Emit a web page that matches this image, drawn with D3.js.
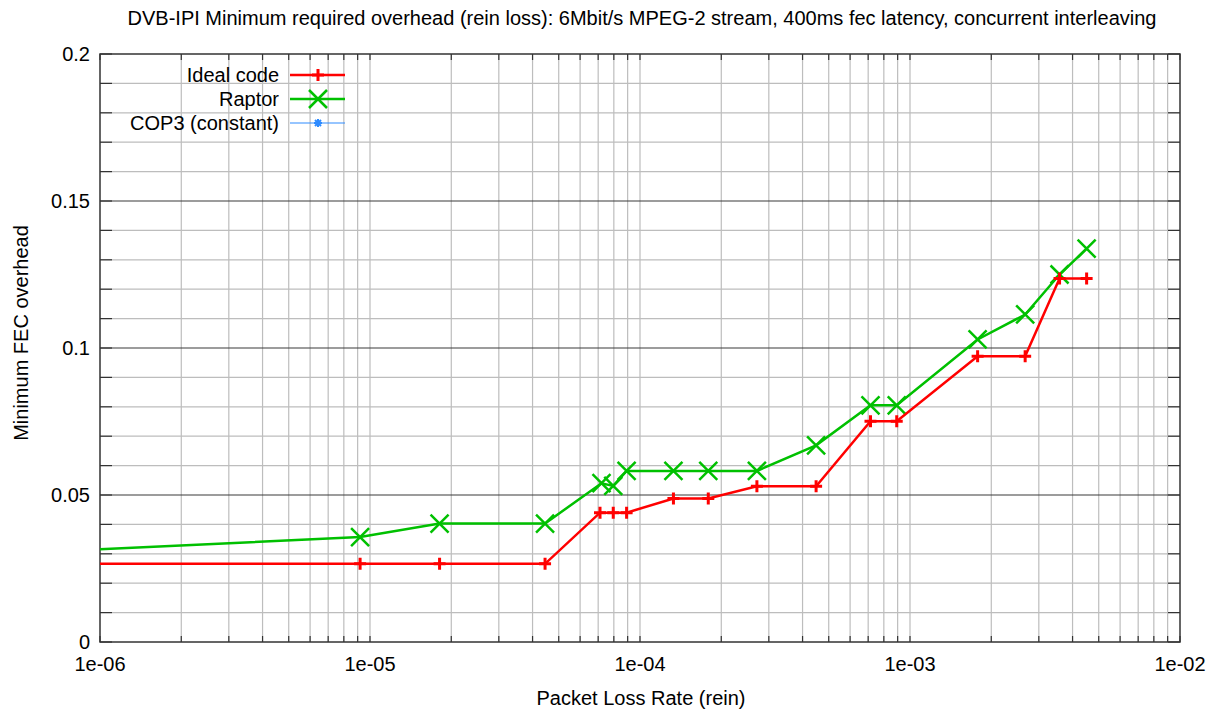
<!DOCTYPE html>
<html>
<head>
<meta charset="utf-8">
<script src="https://cdn.jsdelivr.net/npm/d3@7"></script>
<style>
  body { margin: 0; background: #fff; }
  text { font-family: "Liberation Sans", Arial, sans-serif; fill: #000; }
</style>
</head>
<body>
<svg id="chart" width="1218" height="714"></svg>
<script>
// packet loss rate (x) and minimum overhead (y)
const idealX = [5e-7, 9.19e-6, 1.81e-5, 4.45e-5, 7.11e-5, 7.96e-5, 8.92e-5, 1.33e-4, 1.79e-4, 2.71e-4, 4.49e-4, 7.14e-4, 8.93e-4, 1.78e-3, 2.67e-3, 3.58e-3, 4.51e-3];
const idealY = [0.0266, 0.0266, 0.0266, 0.0266, 0.0440, 0.0440, 0.0440, 0.0488, 0.0488, 0.0530, 0.0530, 0.0751, 0.0751, 0.0972, 0.0972, 0.1236, 0.1236];
const raptorX = [5e-7, 9.19e-6, 1.81e-5, 4.45e-5, 7.2e-5, 7.96e-5, 8.92e-5, 1.33e-4, 1.79e-4, 2.71e-4, 4.49e-4, 7.14e-4, 8.93e-4, 1.78e-3, 2.67e-3, 3.58e-3, 4.51e-3];
const raptorY = [0.0302, 0.0357, 0.0403, 0.0403, 0.0540, 0.0531, 0.0582, 0.0582, 0.0582, 0.0582, 0.0669, 0.0805, 0.0805, 0.1029, 0.1114, 0.1250, 0.1338];
const xTickLabels = ["1e-06", "1e-05", "1e-04", "1e-03", "1e-02"];
const yTickLabels = ["0", "0.05", "0.1", "0.15", "0.2"];
const legendNames = ["Ideal code", "Raptor", "COP3 (constant)"];

const svg = d3.select("#chart");
const margin = { left: 100, right: 38, top: 54, bottom: 72 };
const W = 1218, H = 714;
const FS = 20;
const x = d3.scaleLog().domain([1e-6, 1e-2]).range([margin.left, W - margin.right]);
const y = d3.scaleLinear().domain([0, 0.2]).range([H - margin.bottom, margin.top]);

svg.append("defs").append("clipPath").attr("id", "clip")
  .append("rect").attr("x", x.range()[0]).attr("y", y.range()[1])
  .attr("width", x.range()[1] - x.range()[0]).attr("height", y.range()[0] - y.range()[1]);

// grid
const xMinor = [];
for (let e = -6; e < -2; e++) for (let m = 1; m < 10; m++) xMinor.push(m * Math.pow(10, e));
xMinor.push(1e-2);
const yMinor = d3.range(0, 21).map(i => i / 100);

const grid = svg.append("g");
grid.selectAll(".vg").data(xMinor.slice(1, -1)).join("line")
  .attr("x1", d => x(d)).attr("x2", d => x(d))
  .attr("y1", y(0)).attr("y2", y(0.2))
  .attr("stroke", "#bdbdbd").attr("stroke-width", 1.2);
grid.selectAll(".hg").data(yMinor.slice(1, -1)).join("line")
  .attr("x1", x(1e-6)).attr("x2", x(1e-2))
  .attr("y1", d => y(d)).attr("y2", d => y(d))
  .attr("stroke", d => (Math.round(d * 100) % 5 === 0) ? "#3a3a3a" : "#bdbdbd")
  .attr("stroke-width", 1.2);

// ticks
const ticks = svg.append("g").attr("stroke", "#333").attr("stroke-width", 1.2);
xMinor.forEach(d => {
  ticks.append("line").attr("x1", x(d)).attr("x2", x(d)).attr("y1", y(0)).attr("y2", y(0) - 6);
  ticks.append("line").attr("x1", x(d)).attr("x2", x(d)).attr("y1", y(0.2)).attr("y2", y(0.2) + 6);
});
yMinor.forEach(d => {
  ticks.append("line").attr("x1", x(1e-6)).attr("x2", x(1e-6) + 12).attr("y1", y(d)).attr("y2", y(d));
  ticks.append("line").attr("x1", x(1e-2)).attr("x2", x(1e-2) - 12).attr("y1", y(d)).attr("y2", y(d));
});

// frame
svg.append("rect").attr("x", x(1e-6)).attr("y", y(0.2))
  .attr("width", x(1e-2) - x(1e-6)).attr("height", y(0) - y(0.2))
  .attr("fill", "none").attr("stroke", "#333").attr("stroke-width", 1.5);

// tick labels
xTickLabels.forEach(t => {
  svg.append("text").attr("x", x(+t)).attr("y", y(0) + 29)
    .attr("text-anchor", "middle").attr("font-size", FS).text(t);
});
yTickLabels.forEach(t => {
  svg.append("text").attr("x", x(1e-6) - 10).attr("y", y(+t) + 7)
    .attr("text-anchor", "end").attr("font-size", FS).text(t);
});

// titles
svg.append("text").attr("x", 642).attr("y", 25).attr("text-anchor", "middle")
  .attr("font-size", FS).text("DVB-IPI Minimum required overhead (rein loss): 6Mbit/s MPEG-2 stream, 400ms fec latency, concurrent interleaving");
svg.append("text").attr("x", 641).attr("y", 705).attr("text-anchor", "middle")
  .attr("font-size", FS).text("Packet Loss Rate (rein)");
svg.append("text").attr("transform", "translate(28," + 333 + ") rotate(-90)")
  .attr("text-anchor", "middle").attr("font-size", FS).text("Minimum FEC overhead");

// series
const ideal = idealX.map((d, i) => [d, idealY[i]]);
const raptor = raptorX.map((d, i) => [d, raptorY[i]]);
const line = d3.line().x(d => x(d[0])).y(d => y(d[1]));
const plot = svg.append("g").attr("clip-path", "url(#clip)");

function plusPath(cx, cy, s) { return `M${cx - s},${cy}H${cx + s}M${cx},${cy - s}V${cy + s}`; }
function crossPath(cx, cy, s) { return `M${cx - s},${cy - s}L${cx + s},${cy + s}M${cx - s},${cy + s}L${cx + s},${cy - s}`; }
function starPath(cx, cy, s) { return plusPath(cx, cy, s) + crossPath(cx, cy, s * 0.75); }

plot.append("path").datum(raptor).attr("d", line).attr("fill", "none")
  .attr("stroke", "#00c000").attr("stroke-width", 2.5);
plot.selectAll(".rm").data(raptor.filter(d => d[0] >= 1e-6)).join("path")
  .attr("d", d => crossPath(x(d[0]), y(d[1]), 9)).attr("stroke", "#00c000")
  .attr("stroke-width", 2.5).attr("fill", "none");

plot.append("path").datum(ideal).attr("d", line).attr("fill", "none")
  .attr("stroke", "#ff0000").attr("stroke-width", 2.5);
plot.selectAll(".im").data(ideal.filter(d => d[0] >= 1e-6)).join("path")
  .attr("d", d => plusPath(x(d[0]), y(d[1]), 6)).attr("stroke", "#ff0000")
  .attr("stroke-width", 3).attr("fill", "none");

// legend
const legColors = ["#ff0000", "#00c000", "#2e8bff"];
const legMark = [(cx, cy) => plusPath(cx, cy, 6), (cx, cy) => crossPath(cx, cy, 9), (cx, cy) => starPath(cx, cy, 4)];
const legWidths = [2.5, 2.5, 1.2];
legendNames.forEach((n, i) => {
  const ly = 75 + i * 24;
  svg.append("text").attr("x", 279).attr("y", ly + 7).attr("text-anchor", "end")
    .attr("font-size", FS).text(n);
  svg.append("line").attr("x1", 290).attr("x2", 345).attr("y1", ly).attr("y2", ly)
    .attr("stroke", legColors[i]).attr("stroke-width", legWidths[i]);
  svg.append("path").attr("d", legMark[i](318, ly)).attr("stroke", legColors[i])
    .attr("stroke-width", i === 0 ? 3 : legWidths[i] + (i === 2 ? 0.8 : 0)).attr("fill", "none");
});
</script>
</body>
</html>
